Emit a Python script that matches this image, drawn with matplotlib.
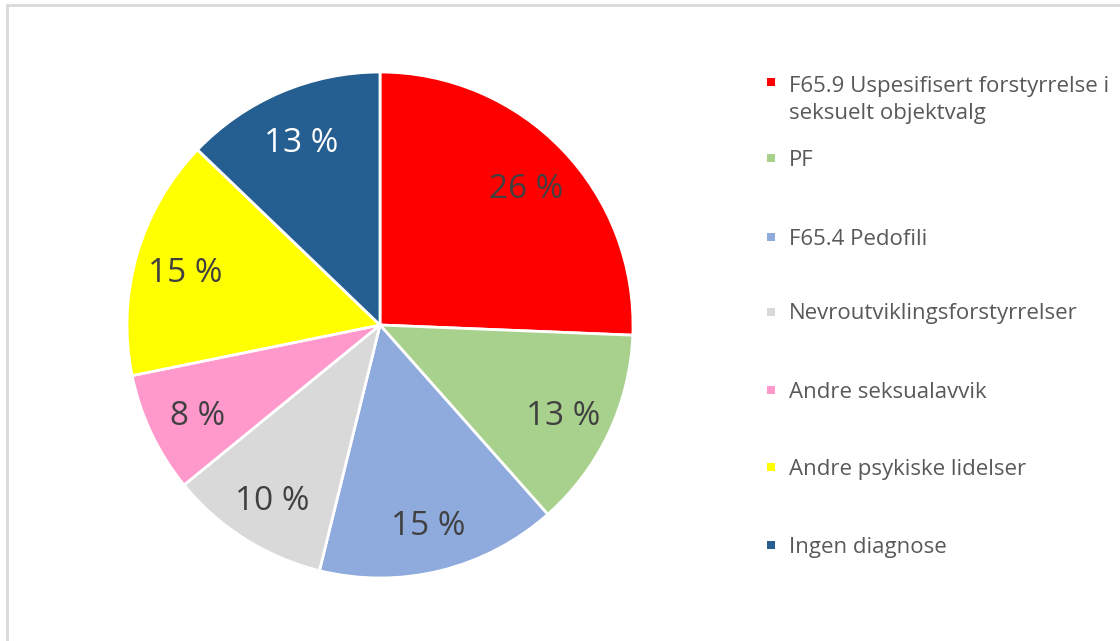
import matplotlib.pyplot as plt
from matplotlib.patches import Rectangle

# data (counts, shown as rounded percent)
labels = ["F65.9 Uspesifisert forstyrrelse i\nseksuelt objektvalg", "PF", "F65.4 Pedofili",
          "Nevroutviklingsforstyrrelser", "Andre seksualavvik", "Andre psykiske lidelser",
          "Ingen diagnose"]
counts = [10, 5, 6, 4, 3, 6, 5]
colors = ["#FF0000", "#A9D18E", "#8FAADC", "#D9D9D9", "#FF99CC", "#FFFF00", "#255E91"]
text_colors = ["#404040", "#404040", "#404040", "#404040", "#404040", "#404040", "#FFFFFF"]

plt.rcParams['font.family'] = ['Open Sans', 'DejaVu Sans']

W, H = 1120, 641
fig = plt.figure(figsize=(W / 100, H / 100), dpi=100)

# chart frame (only top/left visible in the crop)
fig.patches.append(Rectangle((7 / W, -0.1), 1.2, (H - 4.5) / H + 0.1,
                             transform=fig.transFigure, fill=False,
                             edgecolor="#D9D9D9", linewidth=2))

cx, cy, r = 380, 325, 253
ax = fig.add_axes([(cx - r) / W, (H - cy - r) / H, 2 * r / W, 2 * r / H])
wedges, texts, autotexts = ax.pie(counts, colors=colors, startangle=90, counterclock=False,
                                  radius=1, autopct=lambda p: f"{p:.0f} %", pctdistance=0.8,
                                  wedgeprops=dict(edgecolor="white", linewidth=2))
for t, c in zip(autotexts, text_colors):
    t.set_color(c)
    t.set_fontsize(24)
    x, y = t.get_position()
    t.set_position((x, y - 0.02))
ax.set_xlim(-1, 1)
ax.set_ylim(-1, 1)
ax.set_aspect("equal")
ax.axis("off")

# legend drawn by hand
ys = [82, 158, 237, 312, 390, 467, 545]
for lab, col, y in zip(labels, colors, ys):
    fig.patches.append(Rectangle((767 / W, (H - y - 4) / H), 8 / W, 8 / H,
                                 transform=fig.transFigure, facecolor=col, edgecolor="none"))
    ty = y + 16 if "\n" in lab else y
    fig.text(789 / W, (H - ty - 2) / H, lab, fontsize=16, color="#595959",
             va="center", ha="left", linespacing=1.4)

fig.savefig("out.png", dpi=100)
